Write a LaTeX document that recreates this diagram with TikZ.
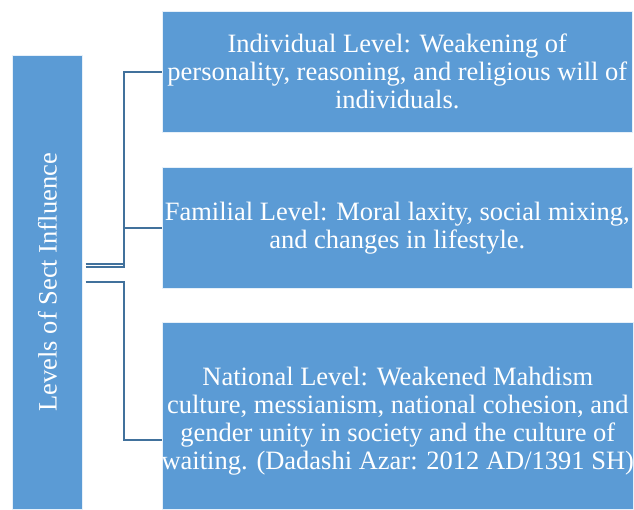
\documentclass[tikz,border=0pt]{standalone}
\usepackage{fontspec}
\setmainfont{Liberation Serif}
\newfontfamily\tnr{Liberation Serif}
\definecolor{boxblue}{HTML}{5B9BD5}
\definecolor{lineblue}{HTML}{41719C}
\begin{document}
\begin{tikzpicture}[x=1pt,y=-1pt,
  lvl/.style={draw=white!85!boxblue,line width=0.6pt,fill=boxblue,text=white,inner sep=0pt,align=center,
    font=\tnr\fontsize{26.5}{28}\selectfont},
  conn/.style={draw=lineblue,line width=2pt}]
\useasboundingbox (0,0) rectangle (634,509);
\node[lvl,minimum width=70,minimum height=454,anchor=north west] (L) at (12,55) {};
\node[text=white,rotate=90,inner sep=0pt,font=\tnr\fontsize{26.5}{28}\selectfont] (Lt) at (L.center) {Levels of Sect Influence};
\node[lvl,minimum width=470,minimum height=121,anchor=north west] (A) at (162,11)
  {Individual Level: Weakening of\\personality, reasoning, and religious will of\\individuals.};
\node[lvl,minimum width=470,minimum height=121,anchor=north west] (B) at (162,167)
  {Familial Level: Moral laxity, social mixing,\\and changes in lifestyle.};
\node[lvl,minimum width=471,minimum height=187,anchor=north west] (C) at (162,322) {};
\node[text=white,align=center,inner sep=0pt,font=\tnr\fontsize{26.5}{28}\selectfont] (Ct) at ([yshift=-5]C.center)
  {National Level: Weakened Mahdism\\culture, messianism, national cohesion, and\\gender unity in society and the culture of\\waiting. (Dadashi Azar: 2012 AD/1391 SH)};
\coordinate (s1) at ([shift={(3,-18)}]L.east);
\coordinate (s2) at ([shift={(3,-15)}]L.east);
\coordinate (s3) at ([shift={(3,0)}]L.east);
\draw[conn] (s1) -- ++(38,0) |- (A.west);
\draw[conn] (s2) -- ++(38,0) |- (B.west);
\draw[conn] (s3) -- ++(38,0) |- ([yshift=-24.5]C.west);
\end{tikzpicture}
\end{document}
